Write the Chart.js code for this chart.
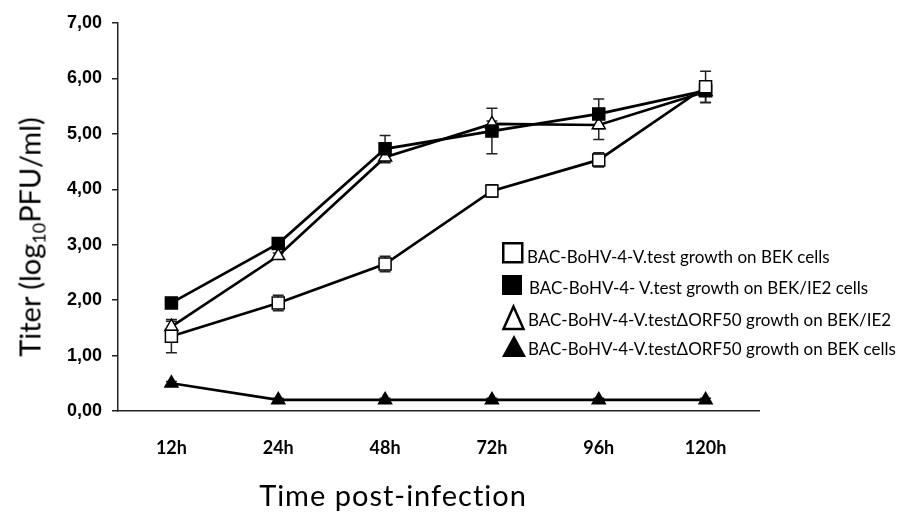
<!DOCTYPE html>
<html>
<head>
<meta charset="utf-8">
<script src="https://cdn.jsdelivr.net/npm/chart.js@4"></script>
<style>
  html, body { margin:0; padding:0; background:#fff; }
  #wrap { position:relative; width:899px; height:514px; overflow:hidden; }
  canvas { position:absolute; left:0; top:0; }
  .ytitle { position:absolute; left:29px; top:237px; transform:translate(-50%,-50%) rotate(-90deg);
            font-family:Lato, sans-serif; font-size:29px; color:#000; white-space:nowrap; line-height:1; }
  .ytitle sub { font-size:18px; vertical-align:-5px; line-height:0; }
  .xtitle { position:absolute; left:393px; top:494px; transform:translate(-50%,-50%);
            font-family:Lato, sans-serif; font-size:29px; letter-spacing:1px; color:#000; white-space:nowrap; line-height:1; }
  .leg { position:absolute; font-family:Lato, sans-serif; font-size:17px; color:#000; white-space:nowrap; line-height:1; transform:translateY(-50%); }
  svg.mk { position:absolute; left:0; top:0; }
</style>
</head>
<body>
<div id="wrap">
  <canvas id="c" width="899" height="514"></canvas>
  <div class="ytitle">Titer (log<sub>10</sub>PFU/ml)</div>
  <div class="xtitle">Time post-infection</div>
  <svg class="mk" width="899" height="514">
    <rect x="503.25" y="243.25" width="19" height="19" fill="#fff" stroke="#000" stroke-width="2.5"/>
    <rect x="502" y="275" width="20" height="20" fill="#000"/>
    <polygon points="513.5,306.5 503.5,329 523.5,329" fill="#fff" stroke="#000" stroke-width="2.5"/>
    <polygon points="514,335 502,357 526,357" fill="#000"/>
  </svg>
  <div class="leg" id="l0" style="left:527px; top:256px;"></div>
  <div class="leg" id="l1" style="left:529px; top:287px;"></div>
  <div class="leg" id="l2" style="left:528px; top:319px;"></div>
  <div class="leg" id="l3" style="left:528px; top:348px;"></div>
</div>
<script>
// ---- data ----
const categories = ['12h', '24h', '48h', '72h', '96h', '120h'];
const yTickLabels = ['0,00', '1,00', '2,00', '3,00', '4,00', '5,00', '6,00', '7,00'];
const seriesNames = [
  'BAC-BoHV-4-V.test growth on BEK cells',
  'BAC-BoHV-4- V.test growth on BEK/IE2 cells',
  'BAC-BoHV-4-V.test\u0394ORF50 growth on BEK/IE2',
  'BAC-BoHV-4-V.test\u0394ORF50 growth on BEK cells'
];
const bekValues        = [1.35, 1.95, 2.65, 3.97, 4.53, 5.85];
const bekErrors        = [0.30, 0.14, 0.14, 0.11, 0.13, 0.28];
const bekIE2Values     = [1.95, 3.02, 4.73, 5.05, 5.36, 5.78];
const bekIE2Errors     = [0.05, 0.05, 0.24, 0.41, 0.27, 0.05];
const orf50IE2Values   = [1.52, 2.80, 4.58, 5.18, 5.16, 5.76];
const orf50IE2Errors   = [0.10, 0.05, 0.10, 0.05, 0.26, 0.20];
const orf50BekValues   = [0.50, 0.20, 0.20, 0.20, 0.20, 0.20];
const orf50BekErrors   = [0.03, 0.03, 0.03, 0.03, 0.03, 0.03];

seriesNames.forEach((n, i) => { document.getElementById('l' + i).textContent = n; });

const errorSets = [bekErrors, bekIE2Errors, orf50IE2Errors, orf50BekErrors];

const errorBarPlugin = {
  id: 'errorBars',
  beforeDatasetsDraw(chart) {
    const ctx = chart.ctx;
    const y = chart.scales.y;
    ctx.save();
    ctx.strokeStyle = '#222';
    ctx.lineWidth = 1.5;
    chart.data.datasets.forEach((ds, di) => {
      const meta = chart.getDatasetMeta(di);
      const errs = errorSets[di];
      meta.data.forEach((pt, i) => {
        const v = ds.data[i], e = errs[i];
        const yt = y.getPixelForValue(v + e), yb = y.getPixelForValue(v - e);
        const x = pt.x;
        ctx.beginPath();
        ctx.moveTo(x, yt); ctx.lineTo(x, yb);
        ctx.moveTo(x - 5.5, yt); ctx.lineTo(x + 5.5, yt);
        ctx.moveTo(x - 5.5, yb); ctx.lineTo(x + 5.5, yb);
        ctx.stroke();
      });
    });
    ctx.restore();
  }
};

const common = { borderColor: '#000', borderWidth: 2.7, pointBorderColor: '#000', pointBorderWidth: 1.5, tension: 0 };

new Chart(document.getElementById('c'), {
  type: 'line',
  data: {
    labels: categories,
    datasets: [
      Object.assign({ label: seriesNames[0], data: bekValues, pointStyle: 'rect', pointRadius: 8.5, pointBackgroundColor: '#fff' }, common),
      Object.assign({ label: seriesNames[1], data: bekIE2Values, pointStyle: 'rect', pointRadius: 8.5, pointBackgroundColor: '#000' }, common),
      Object.assign({ label: seriesNames[2], data: orf50IE2Values, pointStyle: 'triangle', pointRadius: 7.5, pointBackgroundColor: '#fff' }, common),
      Object.assign({ label: seriesNames[3], data: orf50BekValues, pointStyle: 'triangle', pointRadius: 7.5, pointBackgroundColor: '#000' }, common)
    ]
  },
  options: {
    responsive: false,
    animation: false,
    events: [],
    layout: { padding: { left: 0, right: 140, top: 23, bottom: 0 } },
    plugins: { legend: { display: false }, tooltip: { enabled: false } },
    scales: {
      x: {
        type: 'category',
        offset: true,
        afterFit(s) { s.height = 103; },
        grid: { display: true, drawOnChartArea: false, drawTicks: false },
        border: { display: true, color: '#222', width: 1.5 },
        ticks: { color: '#000', padding: 26, font: { family: 'Lato', weight: 'bold', size: 18 } }
      },
      y: {
        min: 0, max: 7,
        afterFit(s) { s.width = 118; },
        grid: { display: true, drawOnChartArea: false, drawTicks: true, tickLength: 6, color: '#222', lineWidth: 1.5 },
        border: { display: true, color: '#222', width: 1.5 },
        ticks: { stepSize: 1, color: '#000', padding: 10,
                 font: { family: 'Liberation Sans', weight: 'bold', size: 18 },
                 callback: (v, i) => yTickLabels[i] }
      }
    }
  },
  plugins: [errorBarPlugin]
});
</script>
</body>
</html>
